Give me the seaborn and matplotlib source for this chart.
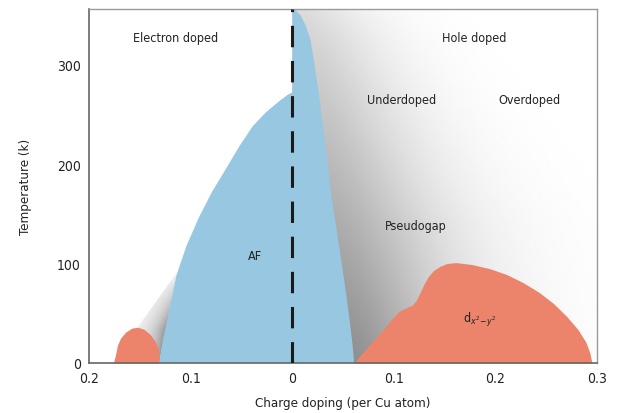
import seaborn as sns
import matplotlib.pyplot as plt
import numpy as np
import pandas as pd
from matplotlib.patches import Polygon

# Phase boundaries (doping < 0 = electron doped)
af_left_x = [-0.131, -0.127, -0.122, -0.114, -0.104, -0.092, -0.079, -0.066, -0.052,
             -0.039, -0.026, -0.012, -0.004, 0.0]
af_left_t = [0, 25, 48, 88, 118, 146, 172, 194, 218, 238, 252, 264, 270, 272]
af_right_x = [0.002, 0.008, 0.013, 0.018, 0.022, 0.027, 0.033, 0.039, 0.045, 0.049,
              0.053, 0.056, 0.059, 0.061]
af_right_t = [356, 350, 340, 325, 300, 265, 215, 165, 125, 98, 70, 47, 22, 0]

sc_e_x = [-0.176, -0.174, -0.172, -0.169, -0.164, -0.158, -0.152, -0.146, -0.140,
          -0.135, -0.132, -0.131, -0.131]
sc_e_t = [0, 8, 18, 25, 31, 35, 36, 34, 29, 22, 15, 8, 0]

sc_h_x = [0.061, 0.068, 0.075, 0.082, 0.089, 0.097, 0.105, 0.113, 0.118, 0.122, 0.126,
          0.130, 0.134, 0.139, 0.145, 0.152, 0.161, 0.177, 0.194, 0.211, 0.227, 0.243,
          0.257, 0.270, 0.281, 0.289, 0.293, 0.295]
sc_h_t = [0, 9, 17, 25, 33, 43, 52, 56, 58, 63, 71, 80, 87, 93, 97, 100, 101, 99, 95,
          89, 81, 71, 60, 47, 34, 21, 10, 0]

x_ticks = [-0.2, -0.1, 0, 0.1, 0.2, 0.3]
x_tick_labels = ["0.2", "0.1", "0", "0.1", "0.2", "0.3"]
y_ticks = [0, 100, 200, 300]

labels = pd.DataFrame({
    "text": ["Electron doped", "Hole doped", "Underdoped", "Overdoped", "Pseudogap", "AF",
             r"d$_{x^2\!-\!y^2}$"],
    "x": [-0.115, 0.179, 0.108, 0.233, 0.122, -0.037, 0.184],
    "t": [327, 327, 265, 265, 138, 108, 44],
})

blue = "#97c7e1"
red = "#ec846b"

sns.set_theme(style="white")
plt.rcParams["font.family"] = ["DejaVu Sans"]
plt.rcParams["font.stretch"] = "condensed"

fig = plt.figure(figsize=(6.19, 4.14), dpi=100)
ax = fig.add_axes([0.1438, 0.1208, 0.8207, 0.855])
ax.set_xlim(-0.2, 0.3)
ax.set_ylim(0, 356)

# grey shading right of the AF dome (pseudogap side)
gx = np.linspace(-0.2, 0.3, 700)
gy = np.linspace(0, 356, 400)
X, Y = np.meshgrid(gx, gy)
edge_r = np.interp(Y, af_right_t[::-1], af_right_x[::-1])
dx = np.clip(X - edge_r, 0, None)
amp = 0.44 - 0.30 * (Y / 356)
scale = 0.105 - 0.035 * np.clip((Y - 140) / 200, 0, 1)
dark = amp * np.exp(-(dx / scale) ** 1.5)
dark[X < 0] = 0
ax.imshow(1 - dark, extent=[-0.2, 0.3, 0, 356], origin="lower", cmap="gray",
          vmin=0, vmax=1, aspect="auto", zorder=0, interpolation="bilinear")

# small shadow between the electron-side domes
edge_l = np.interp(Y, af_left_t, af_left_x)
dl = edge_l - X
sh = 0.40 * np.exp(-np.clip(dl, 0, None) / 0.016) * np.clip((98 - Y) / 65, 0, 1)
shadow_img = ax.imshow(1 - sh, extent=[-0.2, 0.3, 0, 356], origin="lower", cmap="gray",
                       vmin=0, vmax=1, aspect="auto", zorder=1, interpolation="bilinear")
wedge = Polygon([(-0.152, 36), (-0.113, 92), (-0.131, 0), (-0.135, 22)], closed=True,
                transform=ax.transData, fc="none", ec="none")
ax.add_patch(wedge)
shadow_img.set_clip_path(wedge)

# AF dome
af_x = af_left_x + [0.0] + af_right_x
af_t = af_left_t + [356] + af_right_t
ax.add_patch(Polygon(np.column_stack([af_x, af_t]), closed=True, fc=blue, ec="none", zorder=2))

# superconducting domes
ax.fill_between(sc_e_x, 0, sc_e_t, color=red, lw=0, zorder=2)
ax.fill_between(sc_h_x, 0, sc_h_t, color=red, lw=0, zorder=2)

ax.axvline(0, color="#1a1a1a", lw=2.2, ls=(0, (7, 4.5)), zorder=3)

for _, r in labels.iterrows():
    ax.text(r["x"], r["t"], r["text"], ha="center", va="center", fontsize=9,
            color="#222222", zorder=4)

ax.set_xticks(x_ticks)
ax.set_xticklabels(x_tick_labels)
ax.set_yticks(y_ticks)
ax.tick_params(length=0, labelsize=10, colors="#222222", pad=6)
ax.set_xlabel("Charge doping (per Cu atom)", fontsize=9.5, color="#222222", labelpad=8)
ax.set_ylabel("Temperature (k)", fontsize=9.5, color="#222222", labelpad=18)
for s in ["top", "right"]:
    ax.spines[s].set_color("#9a9a9a")
    ax.spines[s].set_linewidth(1)
for s in ["left", "bottom"]:
    ax.spines[s].set_color("#666666")
    ax.spines[s].set_linewidth(1.2)

fig.savefig("out.png", dpi=100)
